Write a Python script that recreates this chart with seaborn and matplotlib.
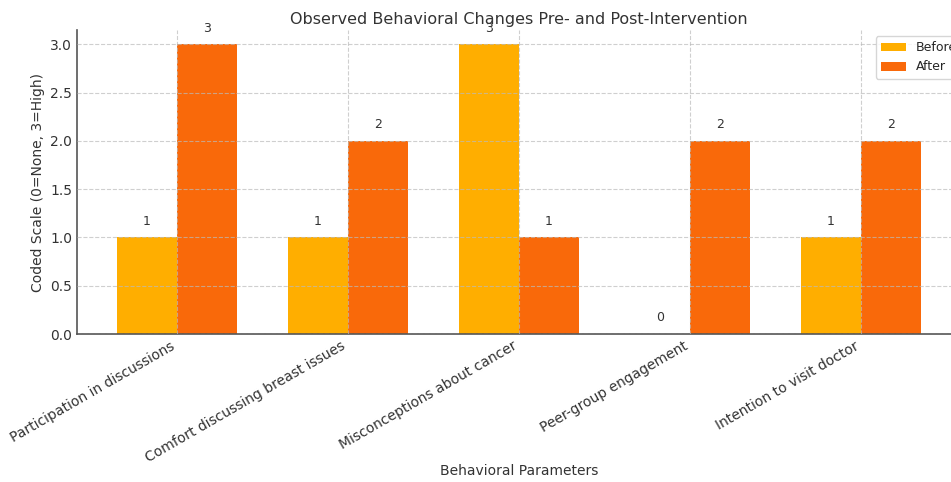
import matplotlib
matplotlib.use("Agg")
import matplotlib.pyplot as plt
import seaborn as sns
import pandas as pd

categories = [
    "Participation in discussions",
    "Comfort discussing breast issues",
    "Misconceptions about cancer",
    "Peer-group engagement",
    "Intention to visit doctor",
]
before_values = [1, 1, 3, 0, 1]
after_values = [3, 2, 1, 2, 2]
phases = ["Before", "After"]
phase_colors = ["#FFAE00", "#F9690A"]

df = pd.DataFrame({
    "Parameter": categories * 2,
    "Phase": [phases[0]] * len(categories) + [phases[1]] * len(categories),
    "Score": before_values + after_values,
})

sns.set_theme(style="white")
plt.rcParams["font.family"] = ["DejaVu Sans"]

fig = plt.figure(figsize=(9.51, 4.82), dpi=100)
ax = fig.add_axes([77 / 951, 148 / 482, 884 / 951, 304 / 482])

sns.barplot(
    data=df, x="Parameter", y="Score", hue="Phase", hue_order=phases,
    palette=phase_colors, width=0.7, saturation=1, ax=ax, linewidth=0,
    legend=True,
)

# value labels above each bar
for container in ax.containers:
    for bar in container:
        h = bar.get_height()
        ax.text(bar.get_x() + bar.get_width() / 2, h + 0.1, f"{int(h)}",
                ha="center", va="bottom", fontsize=9, color="#333333")

ax.set_xlim(-0.585, 4.585)
ax.set_ylim(0, 3.15)
ax.set_yticks([0, 0.5, 1.0, 1.5, 2.0, 2.5, 3.0])
ax.grid(True, linestyle="--", color="#bbbbbb", alpha=0.7, linewidth=0.8)
ax.set_axisbelow(False)

ax.set_title("Observed Behavioral Changes Pre- and Post-Intervention",
             fontsize=11.5, color="#333333", pad=4)
ax.set_xlabel("Behavioral Parameters", fontsize=10, color="#333333",
              labelpad=-1)
ax.set_ylabel("Coded Scale (0=None, 3=High)", fontsize=10, color="#333333")
ax.tick_params(axis="both", length=0, labelsize=10, colors="#333333")
plt.setp(ax.get_xticklabels(), rotation=30, ha="right")

for side in ["top", "right"]:
    ax.spines[side].set_visible(False)
for side in ["left", "bottom"]:
    ax.spines[side].set_color("#555555")
    ax.spines[side].set_linewidth(1.2)

ax.legend(loc="upper right", bbox_to_anchor=(1.008, 1.0), fontsize=9,
          frameon=True, edgecolor="#cccccc", fancybox=True)

fig.savefig("out.png", dpi=100)
